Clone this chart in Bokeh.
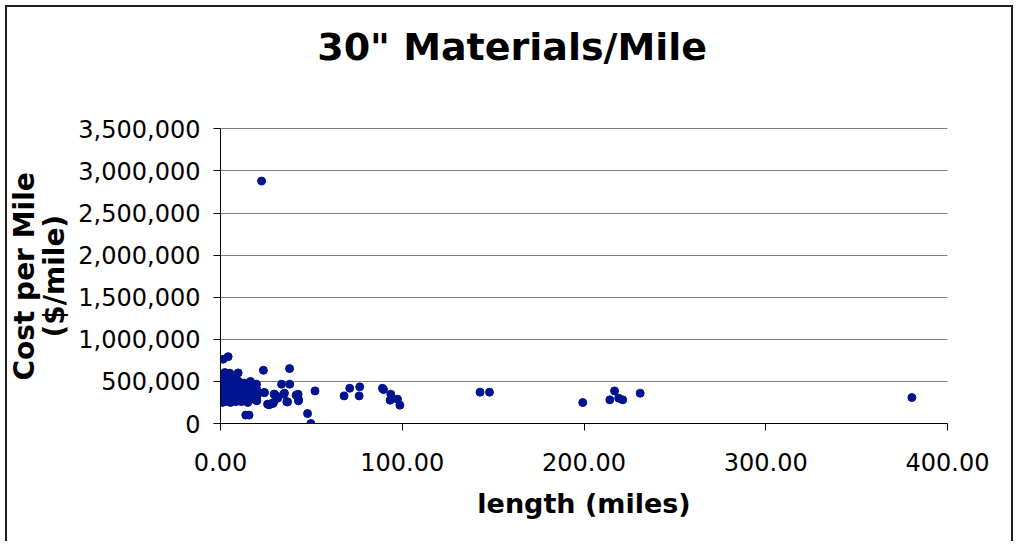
from bokeh.plotting import figure
from bokeh.models import NumeralTickFormatter, FixedTicker, Range1d, Label, Title
from bokeh.embed import file_html
from bokeh.resources import INLINE

# length (miles)
length_mi = [
    22.6, 1.4, 4.2, 23.6, 38.0, 9.7, 2.0, 2.4, 5.1, 19.8, 33.6, 38.1, 24.0, 24.2, 29.5, 29.7,
    30.6, 31.5, 35.2, 34.7, 41.6, 42.7, 42.9, 52.0, 36.9, 36.5, 42.9, 26.7, 27.0, 28.8,
    29.2, 25.9, 21.0, 47.9, 49.7, 13.9, 15.7,
    68.0, 71.1, 76.6, 76.3, 89.1, 89.7, 93.7, 93.3, 97.4, 98.7,
    142.8, 148.0, 199.3, 214.2, 216.8, 219.1, 221.3, 230.9, 380.4,
    # dense cluster of short segments
    1.0, 1.0, 1.0, 1.0, 1.0, 1.0, 1.0,
    2.5, 2.5, 2.5, 2.5, 2.5, 2.5,
    4.0, 4.0, 4.0, 4.0, 4.0, 4.0,
    5.5, 5.5, 5.5, 5.5, 5.5, 5.5,
    7.0, 7.0, 7.0, 7.0, 7.0,
    8.5, 8.5, 8.5, 8.5, 8.5,
    10.0, 10.0, 10.0, 10.0,
    11.5, 11.5, 11.5, 11.5,
    13.0, 13.0, 13.0, 13.0,
    15.0, 15.0, 15.0, 15.0,
    16.5, 16.5, 16.5,
    18.0, 18.0, 18.0,
    20.0, 20.0, 20.0,
]

# cost per mile ($/mile)
cost_per_mile = [
    2880000, 763000, 794000, 632000, 652000, 601000, 592000, 605000, 597000, 467000, 467000, 467000, 367000, 367000, 348000, 348000,
    328000, 301000, 360000, 348000, 336000, 348000, 289000, 387000, 257000, 257000, 269000, 222000, 230000, 237000,
    249000, 230000, 367000, 118000, 0, 100000, 100000,
    328000, 419000, 435000, 328000, 419000, 403000, 348000, 277000, 289000, 218000,
    372000, 372000, 249000, 281000, 387000, 301000, 281000, 360000, 308000,
    540000, 480000, 430000, 380000, 330000, 280000, 250000,
    500000, 450000, 400000, 350000, 300000, 260000,
    560000, 470000, 420000, 360000, 310000, 270000,
    520000, 440000, 390000, 340000, 290000, 250000,
    480000, 410000, 370000, 320000, 270000,
    540000, 450000, 380000, 300000, 260000,
    500000, 430000, 350000, 280000,
    460000, 390000, 320000, 260000,
    480000, 410000, 340000, 290000,
    440000, 370000, 300000, 250000,
    500000, 400000, 330000,
    430000, 360000, 290000,
    400000, 320000, 270000,
]

x_ticks = [0, 100, 200, 300, 400]
y_ticks = [0, 500000, 1000000, 1500000, 2000000, 2500000, 3000000, 3500000]

title_text = '30" Materials/Mile'
x_title = "length (miles)"
y_title_lines = ["Cost per Mile", "($/mile)"]
FONT = "DejaVu Sans"

# layout: the value area spans 0..3.5M over 294.7 px; the frame is extended upward
# (without axis line or grid) to leave room for the title inside the canvas
X_MAX = 400
Y_MAX = 3500000
FRAME_TOP_PX = 3
DATA_H_PX = 294.7
EXTRA_H_PX = 118.3
y_end = Y_MAX * (DATA_H_PX + EXTRA_H_PX) / DATA_H_PX

p = figure(width=1008, height=536, output_backend="svg", toolbar_location=None,
           x_range=Range1d(0, X_MAX), y_range=Range1d(0, y_end),
           min_border_left=213, min_border_right=68, min_border_top=FRAME_TOP_PX,
           min_border_bottom=120)
p.styles = {"margin": "5px 0 0 5px", "border-style": "solid", "border-color": "#1e1e1e",
            "border-width": "2px 2px 0 2px"}
p.outline_line_color = None
p.background_fill_color = "white"
p.border_fill_color = "white"

p.scatter(length_mi, cost_per_mile, size=8, color="#001490", line_color="#001490")

# chart title, centred over the whole chart area
p.add_layout(Label(x=X_MAX * 0.4012, y=Y_MAX * 1.2786, text=title_text, text_align="center",
                   text_baseline="alphabetic", text_font=FONT, text_font_size="38px",
                   text_font_style="bold", text_color="black"))

# two-line y-axis title, each line centred on the value area (offsets from frame bottom)
for line, off, gap in ((y_title_lines[1], 86, 9), (y_title_lines[0], 43, -19)):
    p.add_layout(Title(text=line, align="left", offset=off, standoff=gap,
                       text_font=FONT, text_font_size="28px", text_font_style="bold",
                       text_color="black", text_line_height=0.9), "left")

p.xgrid.grid_line_color = None
p.ygrid.grid_line_color = "#808080"
p.ygrid.grid_line_width = 1
p.ygrid.ticker = FixedTicker(ticks=y_ticks)

p.xaxis.ticker = FixedTicker(ticks=x_ticks)
p.yaxis.ticker = FixedTicker(ticks=y_ticks)
p.yaxis.bounds = (0, Y_MAX)
p.xaxis.formatter = NumeralTickFormatter(format="0.00")
p.yaxis.formatter = NumeralTickFormatter(format="0,0")

for ax in (p.xaxis[0], p.yaxis[0]):
    ax.axis_line_color = "black"
    ax.axis_line_width = 1
    ax.major_tick_line_color = "black"
    ax.major_tick_out = 7
    ax.major_tick_in = 0
    ax.minor_tick_line_color = None
    ax.major_label_text_font = FONT
    ax.major_label_text_font_size = "24px"
    ax.major_label_text_color = "black"
    ax.axis_label_text_font = FONT
    ax.axis_label_text_font_style = "bold"
    ax.axis_label_text_color = "black"

p.xaxis.axis_label = x_title
p.xaxis.axis_label_text_font_size = "27px"
p.xaxis.major_label_standoff = 22
p.xaxis.axis_label_standoff = 14
p.yaxis.major_label_standoff = 13

open("out.html", "w").write(file_html(p, INLINE))
